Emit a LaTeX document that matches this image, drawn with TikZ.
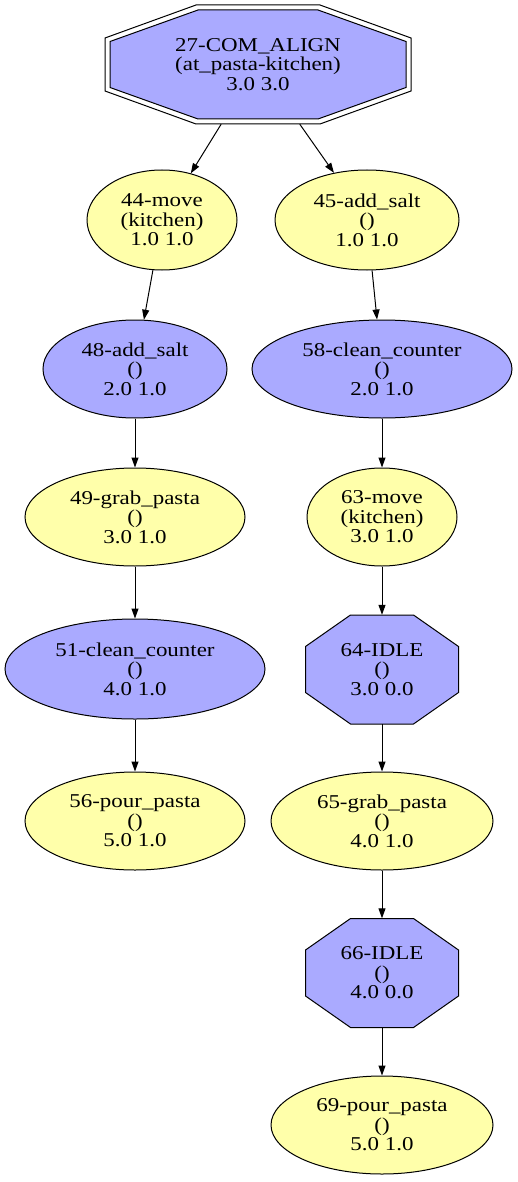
\documentclass[tikz,border=0pt]{standalone}
\usepackage{fontspec}
\setmainfont[FakeStretch=1.17]{Liberation Serif}
\usetikzlibrary{shapes.geometric,arrows.meta}
\definecolor{nblue}{HTML}{AAAAFF}
\definecolor{nyellow}{HTML}{FFFFAA}
\newcommand\myoct[7]{% cx cy hw hh t s style
  \path[#7] (#1-#5,#2-#4) -- (#1+#5,#2-#4) -- (#1+#3,#2-#6) -- (#1+#3,#2+#6) -- (#1+#5,#2+#4) -- (#1-#5,#2+#4) -- (#1-#3,#2+#6) -- (#1-#3,#2-#6) -- cycle;}
\begin{document}
\begin{tikzpicture}[x=1pt,y=-1pt,
  lbl/.style={align=center,font=\fontsize{19.6}{19.5}\selectfont,inner sep=0pt},
  ell/.style={lbl,ellipse,draw,line width=1pt},
  ellb/.style={ell,fill=nblue},
  elly/.style={ell,fill=nyellow},
  octbox/.style={lbl,rectangle,draw=none},
  octline/.style={draw,line width=1pt},
  edge/.style={line width=1pt,-{Triangle[length=10pt,width=7pt]}}]
\useasboundingbox (0,0) rectangle (518,1182);
% octagon shapes
\myoct{258}{64.5}{153}{59.5}{62}{26.5}{octline,fill=white}
\myoct{258}{64.5}{148}{54.5}{60}{23}{octline,fill=nblue}
\myoct{382}{669.5}{76.5}{54.5}{31.5}{23}{octline,fill=nblue}
\myoct{382}{973}{76.5}{54.5}{31.5}{23}{octline,fill=nblue}
% nodes
\node[octbox,minimum width=306pt,minimum height=119pt] (n27) at (258,64.5) {27-COM\_ALIGN\\(at\_pasta-kitchen)\\3.0 3.0};
\node[elly,minimum width=150pt,minimum height=100pt] (n44) at (162,220) {44-move\\(kitchen)\\1.0 1.0};
\node[elly,minimum width=184pt,minimum height=100pt] (n45) at (367,220) {45-add\_salt\\()\\1.0 1.0};
\node[ellb,minimum width=184pt,minimum height=98pt] (n48) at (135,369) {48-add\_salt\\()\\2.0 1.0};
\node[ellb,minimum width=260pt,minimum height=98pt] (n58) at (382,369) {58-clean\_counter\\()\\2.0 1.0};
\node[elly,minimum width=220pt,minimum height=98pt] (n49) at (135,517) {49-grab\_pasta\\()\\3.0 1.0};
\node[elly,minimum width=150pt,minimum height=98pt] (n63) at (382,517) {63-move\\(kitchen)\\3.0 1.0};
\node[ellb,minimum width=260pt,minimum height=100pt] (n51) at (135,669) {51-clean\_counter\\()\\4.0 1.0};
\node[octbox,minimum width=153pt,minimum height=109pt] (n64) at (382,669.5) {64-IDLE\\()\\3.0 0.0};
\node[elly,minimum width=220pt,minimum height=98pt] (n56) at (135,821) {56-pour\_pasta\\()\\5.0 1.0};
\node[elly,minimum width=222pt,minimum height=98pt] (n65) at (382,821) {65-grab\_pasta\\()\\4.0 1.0};
\node[octbox,minimum width=153pt,minimum height=109pt] (n66) at (382,973) {66-IDLE\\()\\4.0 0.0};
\node[elly,minimum width=222pt,minimum height=98pt] (n69) at (382,1125) {69-pour\_pasta\\()\\5.0 1.0};
% edges
\draw[edge] (n27) -- (n44);
\draw[edge] (n27) -- (n45);
\draw[edge] (n44) -- (n48);
\draw[edge] (n48) -- (n49);
\draw[edge] (n49) -- (n51);
\draw[edge] (n51) -- (n56);
\draw[edge] (n45) -- (n58);
\draw[edge] (n58) -- (n63);
\draw[edge] (n63) -- (n64);
\draw[edge] (n64) -- (n65);
\draw[edge] (n65) -- (n66);
\draw[edge] (n66) -- (n69);
\end{tikzpicture}
\end{document}
